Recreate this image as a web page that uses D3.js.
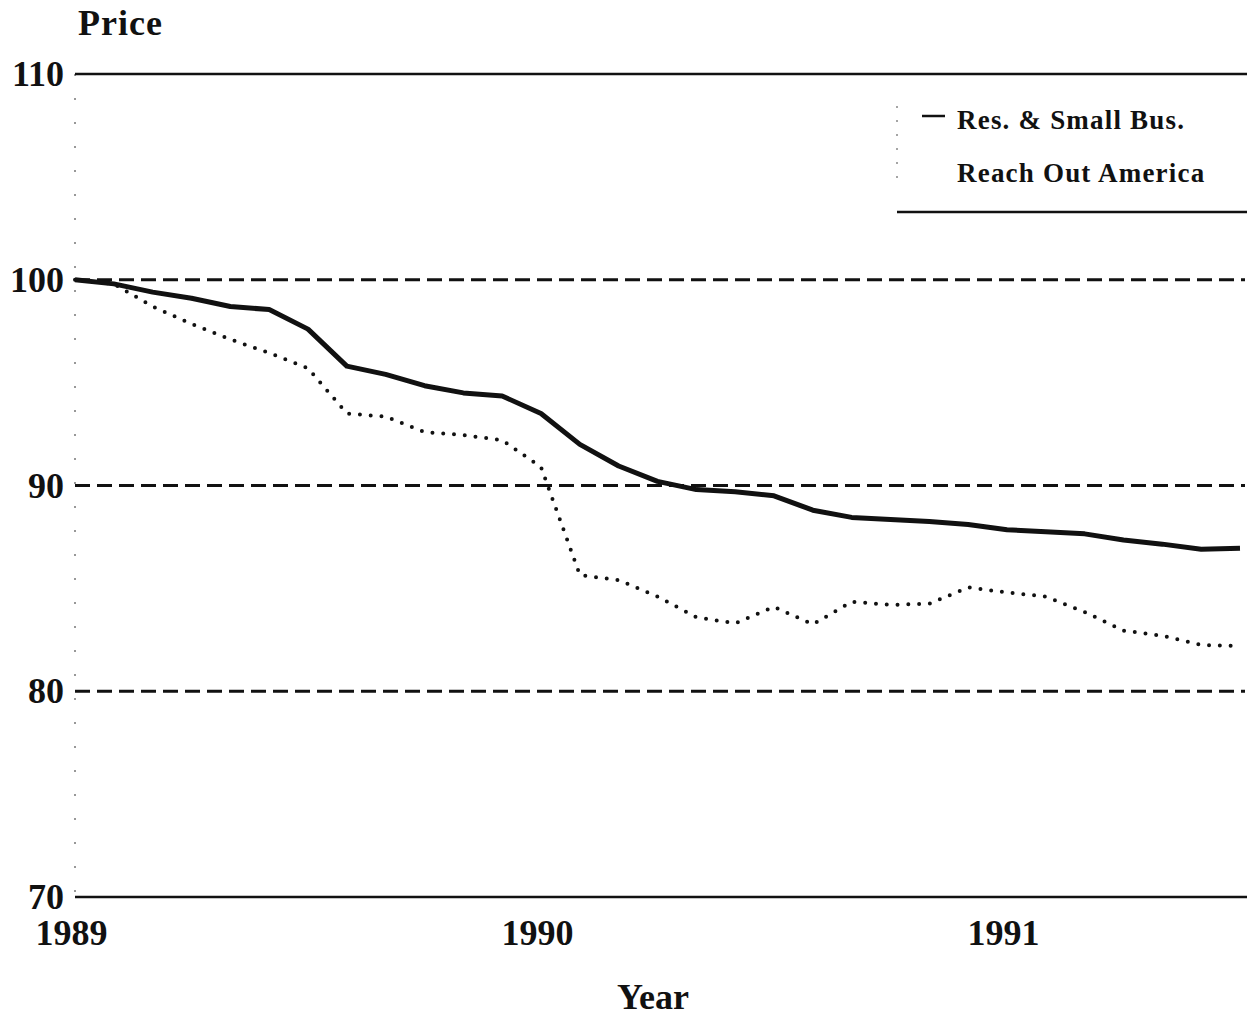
<!DOCTYPE html>
<html>
<head>
<meta charset="utf-8">
<script src="https://cdn.jsdelivr.net/npm/d3@7"></script>
<style>
  body { margin: 0; background: #fff; }
  svg { display: block; }
  text { font-family: "Liberation Serif", "Times New Roman", serif; fill: #111; }
</style>
</head>
<body>
<svg id="chart" width="1247" height="1019"></svg>
<script>
// monthly index, Jan 1989 = 0
var months = d3.range(0, 31);
var resSmallBus = [100, 99.8, 99.4, 99.1, 98.7, 98.55, 97.6, 95.8, 95.4, 94.85, 94.5, 94.35,
  93.5, 92.0, 90.95, 90.2, 89.8, 89.7, 89.5, 88.8, 88.45, 88.35, 88.25, 88.1,
  87.85, 87.75, 87.65, 87.35, 87.15, 86.9, 86.95];
var reachOut = [100, 99.8, 98.7, 97.85, 97.1, 96.45, 95.7, 93.5, 93.35, 92.6, 92.45, 92.2,
  90.9, 85.65, 85.4, 84.6, 83.6, 83.3, 84.1, 83.25, 84.35, 84.2, 84.25, 85.05,
  84.8, 84.6, 83.85, 82.95, 82.7, 82.25, 82.2];
var yTicks = [70, 80, 90, 100, 110];
var dashedTicks = [80, 90, 100];
var yearTicks = [0, 12, 24];
var yearLabels = ["1989", "1990", "1991"];
var legendLabels = ["Res. & Small Bus.", "Reach Out America"];

var svg = d3.select("#chart");

var x = d3.scaleLinear().domain([0, 30]).range([75, 1240]);
var y = d3.scaleLinear().domain([70, 110]).range([897, 74]);

// faint dotted y axis, like the scan
svg.append("line")
    .attr("x1", 75).attr("x2", 75)
    .attr("y1", y(110)).attr("y2", y(70))
    .style("stroke", "#777")
    .style("stroke-width", 1.5)
    .style("stroke-dasharray", "2 22");

// solid frame lines at 110 and 70
svg.selectAll(".frame")
    .data([110, 70])
    .enter().append("line")
    .attr("class", "frame")
    .attr("x1", 75).attr("x2", 1247)
    .attr("y1", d => y(d)).attr("y2", d => y(d))
    .style("stroke", "#111")
    .style("stroke-width", 2.5);

svg.selectAll(".grid")
    .data(dashedTicks)
    .enter().append("line")
    .attr("class", "grid")
    .attr("x1", 75).attr("x2", 1245)
    .attr("y1", d => y(d)).attr("y2", d => y(d))
    .style("stroke", "#111")
    .style("stroke-width", 3)
    .style("stroke-dasharray", "15 7");

var yAxis = svg.append("g")
    .attr("transform", "translate(68,0)")
    .call(d3.axisLeft(y).tickValues(yTicks).tickSize(0).tickPadding(4).tickFormat(d3.format("d")));
yAxis.select(".domain").remove();
yAxis.selectAll("text")
    .style("font-family", "Liberation Serif, serif")
    .style("font-size", "36px")
    .style("font-weight", "bold")
    .style("fill", "#111");

var xAxis = svg.append("g")
    .attr("transform", "translate(-4," + y(70) + ")")
    .call(d3.axisBottom(x).tickValues(yearTicks).tickSize(0).tickPadding(22)
        .tickFormat((d, i) => yearLabels[i]));
xAxis.select(".domain").remove();
xAxis.selectAll("text")
    .style("font-family", "Liberation Serif, serif")
    .style("font-size", "36px")
    .style("font-weight", "bold")
    .style("fill", "#111");

svg.append("text")
    .attr("x", 78).attr("y", 35)
    .style("font-size", "36px")
    .style("font-weight", "bold")
    .style("letter-spacing", "1px")
    .text("Price");

svg.append("text")
    .attr("x", 653).attr("y", 1009)
    .attr("text-anchor", "middle")
    .style("font-size", "36px")
    .style("font-weight", "bold")
    .text("Year");

var line = d3.line()
    .x((d, i) => x(months[i]))
    .y(d => y(d));

svg.append("path")
    .datum(reachOut)
    .attr("d", line)
    .style("fill", "none")
    .style("stroke", "#111")
    .style("stroke-width", 4)
    .style("stroke-linecap", "round")
    .style("stroke-dasharray", "0 10.8");

svg.append("path")
    .datum(resSmallBus)
    .attr("d", line)
    .style("fill", "none")
    .style("stroke", "#111")
    .style("stroke-width", 5)
    .style("stroke-linejoin", "round");

// legend
svg.append("line")
    .attr("x1", 897).attr("x2", 897)
    .attr("y1", 106).attr("y2", 178)
    .style("stroke", "#888")
    .style("stroke-width", 1.5)
    .style("stroke-dasharray", "2 12");

svg.append("line")
    .attr("x1", 922).attr("x2", 945)
    .attr("y1", 116).attr("y2", 116)
    .style("stroke", "#111")
    .style("stroke-width", 2.5);

svg.selectAll(".legend-text")
    .data(legendLabels)
    .enter().append("text")
    .attr("class", "legend-text")
    .attr("x", 957)
    .attr("y", (d, i) => 129 + i * 53)
    .style("font-size", "27px")
    .style("font-weight", "bold")
    .style("letter-spacing", "1.2px")
    .text(d => d);

svg.append("line")
    .attr("x1", 897).attr("x2", 1247)
    .attr("y1", 212).attr("y2", 212)
    .style("stroke", "#111")
    .style("stroke-width", 2.5);
</script>
</body>
</html>
